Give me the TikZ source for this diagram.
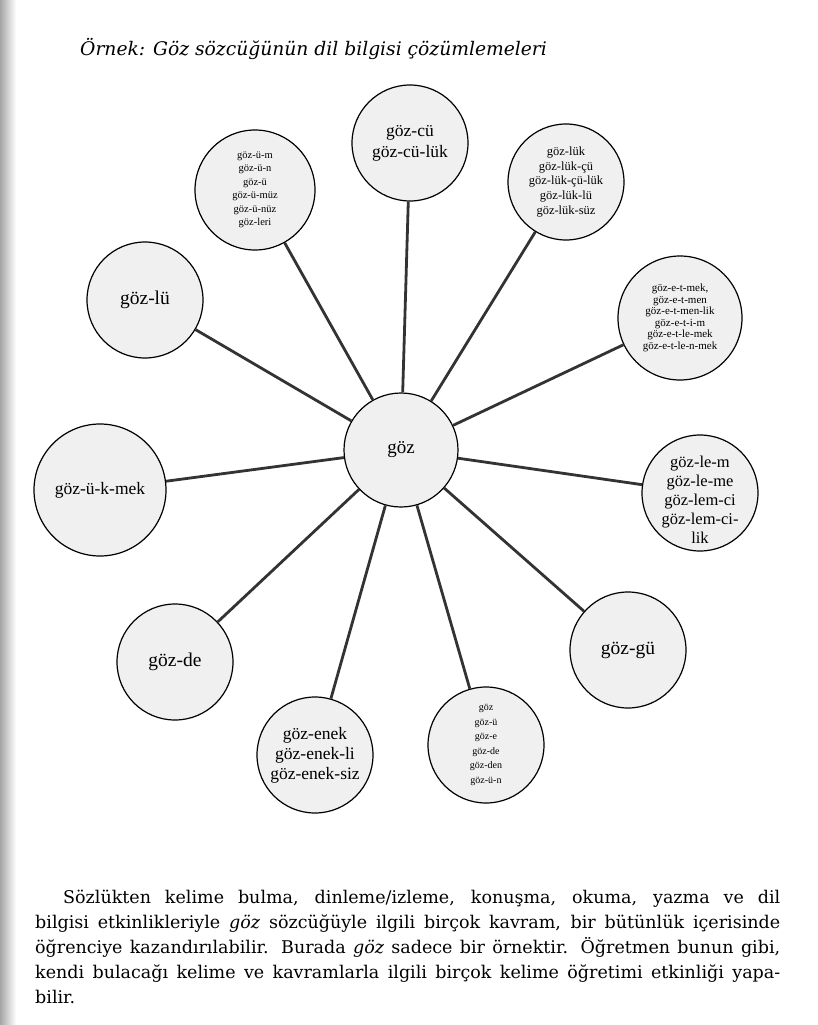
\documentclass[tikz,border=0pt]{standalone}
\usepackage{fontspec}
\setmainfont{Liberation Serif}
\newfontfamily\souv{DejaVu Serif}
\begin{document}
\begin{tikzpicture}[x=1pt,y=-1pt,
  bubble/.style={circle,draw=black,line width=1.2pt,fill=black!6,inner sep=0pt,minimum size=#1},
  bubble/.default=116pt,
  spoke/.style={draw=black!80,line width=2.8pt},
  lab/.style={align=center,font=#1,inner sep=0pt},
  para/.style={anchor=base west,inner sep=0pt,font=\souv\fontsize{17.5}{25}\selectfont}]
\useasboundingbox (0,0) rectangle (818,1025);
\shade[left color=black!35,right color=white] (0,0) rectangle (16,1025);

\node[anchor=base west,inner sep=0pt,font=\souv\itshape\fontsize{18.7}{22}\selectfont] (title) at (80,56) {Örnek: Göz sözcüğünün dil bilgisi çözümlemeleri};

% circles
\node[bubble=114pt] (c0) at (401,450) {};
\node[bubble] (t) at (410,143) {};
\node[bubble=120pt] (tl) at (255,190) {};
\node[bubble] (tr) at (566,182) {};
\node[bubble] (l1) at (145,300) {};
\node[bubble=124pt] (r1) at (680,318) {};
\node[bubble=132pt] (l2) at (100,490) {};
\node[bubble] (r2) at (700,493) {};
\node[bubble] (bl) at (175,662) {};
\node[bubble] (br) at (628,650) {};
\node[bubble] (b1) at (315,755) {};
\node[bubble] (b2) at (486,745) {};

% spokes
\foreach \n in {t,tl,tr,l1,r1,l2,r2,bl,br,b1,b2}
  \draw[spoke] (c0) -- (\n);

% texts
\node[lab=\fontsize{19}{21}\selectfont] (c0t) at (c0) {göz};
\node[lab=\fontsize{17.5}{21}\selectfont] (tt) at (t) {göz-cü\\göz-cü-lük};
\node[lab=\fontsize{10.5}{13.5}\selectfont] (tlt) at (tl) {göz-ü-m\\göz-ü-n\\göz-ü\\göz-ü-müz\\göz-ü-nüz\\göz-leri};
\node[lab=\fontsize{12.5}{14.7}\selectfont] (trt) at (tr) {göz-lük\\göz-lük-çü\\göz-lük-çü-lük\\göz-lük-lü\\göz-lük-süz};
\node[lab=\fontsize{19.5}{21}\selectfont] (l1t) at (l1) {göz-lü};
\node[lab=\fontsize{11}{11.5}\selectfont] (r1t) at (r1) {göz-e-t-mek,\\göz-e-t-men\\göz-e-t-men-lik\\göz-e-t-i-m\\göz-e-t-le-mek\\göz-e-t-le-n-mek};
\node[lab=\fontsize{17.5}{20}\selectfont] (l2t) at (l2) {göz-ü-k-mek};
\node[lab=\fontsize{16.5}{19}\selectfont] (r2t) at ([yshift=-7pt]r2) {göz-le-m\\göz-le-me\\göz-lem-ci\\göz-lem-ci-\\lik};
\node[lab=\fontsize{19.5}{21}\selectfont] (blt) at (bl) {göz-de};
\node[lab=\fontsize{19.5}{21}\selectfont] (brt) at (br) {göz-gü};
\node[lab=\fontsize{17.5}{20}\selectfont] (b1t) at (b1) {göz-enek\\göz-enek-li\\göz-enek-siz};
\node[lab=\fontsize{10}{14.5}\selectfont] (b2t) at (b2) {göz\\göz-ü\\göz-e\\göz-de\\göz-den\\göz-ü-n};

% paragraph
\node[para] (p1) at (63,903) {\makebox[717pt][s]{Sözlükten kelime bulma, dinleme/izleme, konuşma, okuma, yazma ve dil}};
\node[para] (p2) at (35,928) {\makebox[745pt][s]{bilgisi etkinlikleriyle \textit{göz} sözcüğüyle ilgili birçok kavram, bir bütünlük içerisinde}};
\node[para] (p3) at (35,953) {\makebox[745pt][s]{öğrenciye kazandırılabilir. Burada \textit{göz} sadece bir örnektir. Öğretmen bunun gibi,}};
\node[para] (p4) at (35,978) {\makebox[745pt][s]{kendi bulacağı kelime ve kavramlarla ilgili birçok kelime öğretimi etkinliği yapa-}};
\node[para] (p5) at (35,1003) {bilir.};
\end{tikzpicture}
\end{document}
